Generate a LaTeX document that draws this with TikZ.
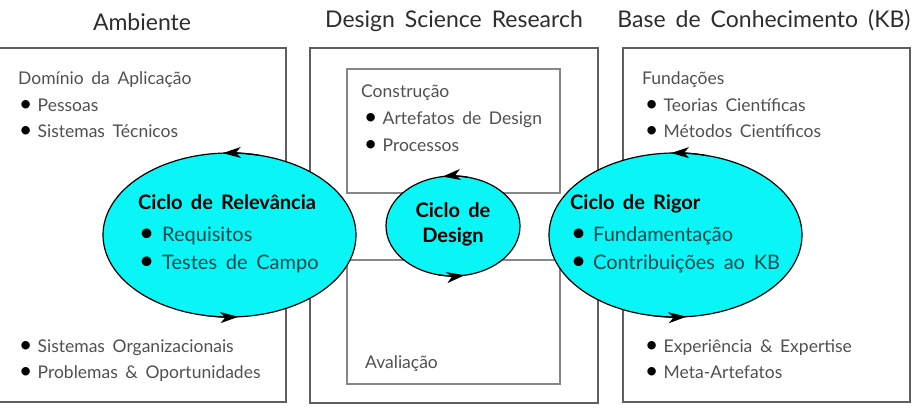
\documentclass[tikz,border=0pt]{standalone}
\usepackage{fontspec}
\setmainfont{Lato}[WordSpace={1.7}]
\usetikzlibrary{shapes.geometric,arrows.meta}
\definecolor{boxgray}{RGB}{95,95,95}
\definecolor{innergray}{RGB}{135,135,135}
\definecolor{txtgray}{RGB}{80,80,80}
\definecolor{titlegray}{RGB}{45,45,45}
\definecolor{cycfill}{RGB}{10,245,245}
\definecolor{teal2}{RGB}{0,72,80}
\tikzset{
  outerbox/.style={draw=boxgray,line width=1.8pt},
  innerbox/.style={draw=innergray,line width=1.3pt},
  title/.style={font=\fontsize{23}{26}\selectfont,text=titlegray,anchor=base,inner sep=0pt},
  boxtxt/.style={font=\fontsize{17.5}{20}\selectfont,text=txtgray,anchor=base west,inner sep=0pt},
  cycle/.style={ellipse,draw=black,line width=1.2pt,fill=cycfill,inner sep=0pt},
  cyctitle/.style={font=\fontsize{20}{23}\selectfont\bfseries,text=black,anchor=base west,inner sep=0pt},
  cycitem/.style={font=\fontsize{20}{23}\selectfont,text=teal2,anchor=base west,inner sep=0pt},
  cycarrow/.style={line width=1.2pt,-{Stealth[length=18pt,width=11pt,inset=5pt]}},
}
\newcommand{\bigbul}{\textcolor{black}{\scalebox{1.3}{\textbullet}}}
\newcommand{\bul}[1]{\makebox[18.5pt][l]{\bigbul}#1}
\newcommand{\cbul}[1]{\makebox[23pt][l]{\bigbul}#1}
\begin{document}
\begin{tikzpicture}[x=1pt,y=-1pt]
\useasboundingbox (0,0) rectangle (917,411);
% titles
\node[title] (tamb) at (142,31) {Ambiente};
\node[title] (tdsr) at (454,28) {Design Science Research};
\node[title] (tkb) at (764,28) {Base de Conhecimento (KB)};
% boxes
\node[outerbox,inner sep=0pt,minimum width=295pt,minimum height=354pt] (amb) at (138.5,225) {};
\node[outerbox,inner sep=0pt,minimum width=288pt,minimum height=355pt] (dsr) at (454,225.5) {};
\node[outerbox,inner sep=0pt,minimum width=287pt,minimum height=354pt] (kb) at (766.5,225) {};
\node[innerbox,inner sep=0pt,minimum width=213pt,minimum height=124pt] (cons) at (453.5,131) {};
\node[innerbox,inner sep=0pt,minimum width=213pt,minimum height=124pt] (aval) at (453.5,322) {};
% left box text
\node[boxtxt] (a0) at (18,85) {Domínio da Aplicação};
\node[boxtxt] (a1) at (19,111.5) {\bul{Pessoas}};
\node[boxtxt] (a2) at (19,138) {\bul{Sistemas Técnicos}};
\node[boxtxt] (a3) at (19,352) {\bul{Sistemas Organizacionais}};
\node[boxtxt] (a4) at (19,378) {\bul{Problemas \& Oportunidades}};
% middle text
\node[boxtxt] (c0) at (361,98) {Construção};
\node[boxtxt] (c1) at (364,125) {\bul{Artefatos de Design}};
\node[boxtxt] (c2) at (364,152) {\bul{Processos}};
\node[boxtxt] (v0) at (365,368) {Avaliação};
% right text
\node[boxtxt] (k0) at (642,85) {Fundações};
\node[boxtxt] (k1) at (645,111.5) {\bul{Teorias Científicas}};
\node[boxtxt] (k2) at (645,138) {\bul{Métodos Científicos}};
\node[boxtxt] (k3) at (645,352) {\bul{Experiência \& Expertise}};
\node[boxtxt] (k4) at (645,378) {\bul{Meta-Artefatos}};
% cycles
\node[cycle,minimum width=253pt,minimum height=164pt] (rel) at (229.5,235) {};
\node[cycle,minimum width=134pt,minimum height=100pt] (des) at (453,226) {};
\node[cycle,minimum width=253pt,minimum height=164pt] (rig) at (675.5,235) {};
% cycle texts
\node[cyctitle] (r0) at (138,210) {Ciclo de Relevância};
\node[cycitem] (r1) at (139,242) {\cbul{Requisitos}};
\node[cycitem] (r2) at (139,270) {\cbul{Testes de Campo}};
\node[cyctitle,anchor=base] (d0) at (453,218) {Ciclo de};
\node[cyctitle,anchor=base] (d1) at (453,243) {Design};
\node[cyctitle] (g0) at (570,210) {Ciclo de Rigor};
\node[cycitem] (g1) at (571,242) {\makebox[22pt][l]{\bigbul}Fundamentação};
\node[cycitem] (g2) at (571,270) {\makebox[22pt][l]{\bigbul}Contribuições ao KB};
% cycle arrows
\draw[cycarrow] ([shift={(284:126.5 and 82)}]rel.center) arc[start angle=284,end angle=267,x radius=126.5,y radius=82];
\draw[cycarrow] ([shift={(102:126.5 and 82)}]rel.center) arc[start angle=102,end angle=86,x radius=126.5,y radius=82];
\draw[cycarrow] ([shift={(283:67 and 50)}]des.center) arc[start angle=283,end angle=261,x radius=67,y radius=50];
\draw[cycarrow] ([shift={(103:67 and 50)}]des.center) arc[start angle=103,end angle=80,x radius=67,y radius=50];
\draw[cycarrow] ([shift={(285:126 and 82)}]rig.center) arc[start angle=285,end angle=268,x radius=126,y radius=82];
\draw[cycarrow] ([shift={(102:126 and 82)}]rig.center) arc[start angle=102,end angle=85,x radius=126,y radius=82];
\end{tikzpicture}
\end{document}
